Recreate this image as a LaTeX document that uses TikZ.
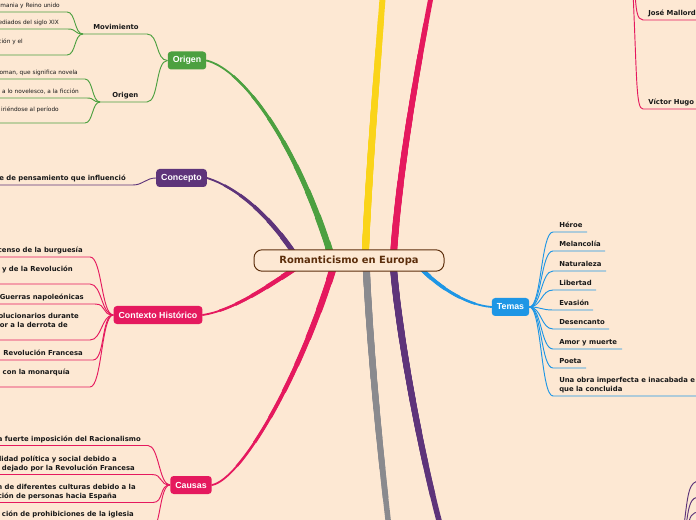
\documentclass[tikz,border=0pt]{standalone}
\usepackage{fontspec}
\setmainfont{DejaVu Sans}
\newfontfamily\libsans{Liberation Sans}
\usetikzlibrary{calc}
\definecolor{bgc}{RGB}{253,232,211}
\definecolor{grn}{RGB}{76,160,64}
\definecolor{prp}{RGB}{94,52,122}
\definecolor{pnk}{RGB}{229,25,94}
\definecolor{blu}{RGB}{30,150,229}
\definecolor{ylw}{RGB}{250,212,25}
\definecolor{gry}{RGB}{138,138,142}
\definecolor{brn}{RGB}{92,46,12}
\definecolor{txt}{RGB}{25,25,25}
\pgfdeclarelayer{back}
\pgfdeclarelayer{edges}
\pgfsetlayers{back,edges,main}
\newcommand\mbranch[5]{%
  \draw[#1,line width=#3*0.75pt,line cap=round] #5;
  \foreach \k in {1,...,8}{%
    \begin{scope}
      \clip (ctr) circle[radius={#2*(1-\k/9)}];
      \draw[#1,line width={(#3+(#4-#3)*\k/8)*0.75pt}] #5;
    \end{scope}
  }%
}
\begin{document}
\begin{tikzpicture}[x=0.75pt,y=-0.75pt,
  mainnode/.style={fill=#1,text=white,rounded corners=2.5pt,inner xsep=3.8pt,inner ysep=0pt,minimum height=13.5pt,font=\libsans\bfseries\fontsize{6.6}{8}\selectfont},
  leafb/.style={inner sep=0pt,text=txt,font=\bfseries\fontsize{5.15}{6.5}\selectfont},
  leafr/.style={inner sep=0pt,text=txt,font=\fontsize{4.35}{5.5}\selectfont},
  lw/.style={anchor=base west},
  le/.style={anchor=base east},
  sub/.style={draw=#1,line width=0.7pt},
]
\useasboundingbox (0,0) rectangle (696,520);
\begin{pgfonlayer}{back}
\fill[bgc] (0,0) rectangle (696,520);
\end{pgfonlayer}

% ---------- main nodes ----------
\node[draw=brn,line width=0.75pt,fill=bgc,rounded corners=6pt,minimum width=142.5pt,minimum height=16pt,inner sep=0pt,text=brn,font=\bfseries\fontsize{7.45}{9}\selectfont] (root) at (349,260.5) {Romanticismo en Europa};
\coordinate (ctr) at (349,261);
\node[mainnode=grn] (orig) at (187,60.5) {Origen};
\node[mainnode=prp] (conc) at (181.5,178) {Concepto};
\node[mainnode=pnk] (ctx) at (158,315) {Contexto Histórico};
\node[mainnode=pnk] (caus) at (191,485) {Causas};
\node[mainnode=blu] (temas) at (510.5,307) {Temas};

% ---------- branch end coordinates ----------
\coordinate (gEnd) at (333,262);
\coordinate (cEnd) at (300,262);
\coordinate (xEnd) at (305,262);
\coordinate (sEnd) at (335,262);
\coordinate (tEnd) at (415,262);
\coordinate (yEnd) at (365,262);
\coordinate (yTop) at (383,-8);
\coordinate (pEnd) at (393,262);
\coordinate (pTop) at (432,-8);
\coordinate (grEnd) at (366,262);
\coordinate (grBot) at (389,528);
\coordinate (puEnd) at (393,262);
\coordinate (puBot) at (441,528);

% ---------- Origen subtree ----------
\coordinate (movR) at (147,34); \coordinate (movL) at (83,34);
\coordinate (o1R) at (67,12);  \coordinate (o1L) at (-5,12);
\coordinate (o2R) at (68,29);  \coordinate (o2L) at (-5,29);
\coordinate (o3R) at (67,55);  \coordinate (o3L) at (-5,55);
\coordinate (osR) at (147,102); \coordinate (osL) at (100,102);
\coordinate (o4R) at (85,79);  \coordinate (o4L) at (-5,79);
\coordinate (o5R) at (87,98);  \coordinate (o5L) at (-5,98);
\coordinate (o6R) at (85,123); \coordinate (o6L) at (-5,123);
\node[leafb,lw] (mov) at (93,29.5) {Movimiento};
\node[leafb,lw] (osub) at (112,98) {Origen};
\node[leafr,le] (o1) at (60,7.5) {mania y Reino unido};
\node[leafr,le] (o2) at (59,24.5) {ediados del siglo XIX};
\node[leafr,le] (o3) at (23,44) {ción y el};
\node[leafr,le] (o4) at (78,75) {oman, que significa novela};
\node[leafr,le] (o5) at (79,93.5) {a lo novelesco, a la ficción};
\node[leafr,le] (o6) at (59,112) {iriéndose al período};

% ---------- Concepto ----------
\coordinate (cR) at (133,185); \coordinate (cL) at (-5,185);
\node[leafb,le] (c1) at (126,180.5) {e de pensamiento que influenció};

% ---------- Contexto ----------
\coordinate (xaR) at (90,257);  \coordinate (xaL) at (-5,257);
\coordinate (xbR) at (90,284);  \coordinate (xbL) at (-5,284);
\coordinate (xcR) at (95,304);  \coordinate (xcL) at (-5,304);
\coordinate (xdR) at (90,340);  \coordinate (xdL) at (-5,340);
\coordinate (xeR) at (93,360);  \coordinate (xeL) at (-5,360);
\coordinate (xfR) at (90,387);  \coordinate (xfL) at (-5,387);
\node[leafb,le] (xa) at (83,252.5) {censo de la burguesía};
\node[leafb,le] (xb) at (73,271.5) {y de la Revolución};
\node[leafb,le] (xc) at (84,299.5) {Guerras napoleónicas};
\node[leafb,le] (xd1) at (79,319) {olucionarios durante};
\node[leafb,le] (xd2) at (68,328) {or a la derrota de};
\node[leafb,le] (xe) at (83,355.5) {Revolución Francesa};
\node[leafb,le] (xf) at (70,374.5) {con la monarquía};

% ---------- Causas ----------
\coordinate (saR) at (148,445.5); \coordinate (saL) at (-5,445.5);
\coordinate (sbR) at (152,474.5); \coordinate (sbL) at (-5,474.5);
\coordinate (scR) at (153,502.5); \coordinate (scL) at (-5,502.5);
\coordinate (sdR) at (150,532);   \coordinate (sdL) at (-5,532);
\node[leafb,le] (sa) at (141,441) {a fuerte imposición del Racionalismo};
\node[leafb,le] (sb1) at (117,461) {lidad política y social debido a};
\node[leafb,le] (sb2) at (135,470) {dejado por la Revolución Francesa};
\node[leafb,le] (sc1) at (136,489) {n de diferentes culturas debido a la};
\node[leafb,le] (sc2) at (117,498) {ción de personas hacia España};
\node[leafb,le] (sd) at (134,516.5) {ción de prohibiciones de la iglesia};

% ---------- Temas ----------
\foreach \n/\u/\e in {1/232/587,2/251/605,3/271/606,4/290/596,5/310/593,6/329/609,7/349/622,8/368/586,9/396/700}{
  \coordinate (tL\n) at (553,\u);
  \coordinate (tR\n) at (\e,\u);
}
\node[leafb,lw] (t1) at (559,227.5) {Héroe};
\node[leafb,lw] (t2) at (559,246.5) {Melancolía};
\node[leafb,lw] (t3) at (559,266.5) {Naturaleza};
\node[leafb,lw] (t4) at (559,285.5) {Libertad};
\node[leafb,lw] (t5) at (559,305.5) {Evasión};
\node[leafb,lw] (t6) at (559,324.5) {Desencanto};
\node[leafb,lw] (t7) at (559,344.5) {Amor y muerte};
\node[leafb,lw] (t8) at (559,363.5) {Poeta};
\node[leafb,lw] (t9a) at (559,382.5) {Una obra imperfecta e inacabada e};
\node[leafb,lw] (t9b) at (559,391.5) {que la concluida};

% ---------- top right ----------
\coordinate (jmTop) at (635,-8); \coordinate (jmL) at (643,20); \coordinate (jmR) at (700,20);
\coordinate (vhTop) at (633,-8); \coordinate (vhL) at (643,109); \coordinate (vhR) at (700,109);
\node[leafb,lw] (jm) at (648,15.5) {José Mallord};
\node[leafb,lw] (vh) at (648,104.5) {Víctor Hugo};

% ---------- bottom right ----------
\coordinate (b1s) at (684,526); \coordinate (b1e) at (700,481);
\coordinate (b2s) at (686,526); \coordinate (b2e) at (700,497);
\coordinate (b3s) at (688,526); \coordinate (b3e) at (700,512);

\begin{pgfonlayer}{edges}
\mbranch{grn}{246}{1.8}{7}{(orig.east) .. controls (245,70) and (300,150) .. (gEnd)}
\mbranch{prp}{164}{1.8}{7}{(conc.east) .. controls (235,187) and (268,212) .. (cEnd)}
\mbranch{pnk}{156}{1.8}{7}{(ctx.east) .. controls (235,310) and (270,285) .. (xEnd)}
\mbranch{pnk}{263}{1.8}{7}{(caus.east) .. controls (240,480) and (300,380) .. (sEnd)}
\mbranch{blu}{150}{1.8}{6.5}{(temas.west) .. controls (465,305) and (435,285) .. (tEnd)}
\mbranch{ylw}{275}{6}{7}{(yTop) .. controls (378,60) and (368,180) .. (yEnd)}
\mbranch{pnk}{280}{5}{7}{(pTop) .. controls (415,80) and (398,180) .. (pEnd)}
\mbranch{gry}{270}{5.5}{7}{(grEnd) .. controls (370,350) and (380,450) .. (grBot)}
\mbranch{prp}{280}{5.5}{7}{(puEnd) .. controls (398,330) and (420,450) .. (puBot)}

% Origen
\draw[sub=grn] (orig.west) .. controls +(-12,0) and +(12,0) .. (movR) -- (movL);
\draw[sub=grn] (orig.west) .. controls +(-12,0) and +(12,0) .. (osR) -- (osL);
\foreach \a in {o1,o2,o3}{\draw[sub=grn] (movL) .. controls +(-9,0) and +(9,0) .. (\a R) -- (\a L);}
\foreach \a in {o4,o5,o6}{\draw[sub=grn] (osL) .. controls +(-8,0) and +(8,0) .. (\a R) -- (\a L);}
% Concepto
\draw[sub=prp] (conc.west) .. controls +(-10,0) and +(10,0) .. (cR) -- (cL);
% Contexto
\foreach \a in {xa,xb,xc,xd,xe,xf}{\draw[sub=pnk] (ctx.west) .. controls +(-12,0) and +(12,0) .. (\a R) -- (\a L);}
% Causas
\foreach \a in {sa,sb,sc,sd}{\draw[sub=pnk] (caus.west) .. controls +(-11,0) and +(11,0) .. (\a R) -- (\a L);}
% Temas
\foreach \n in {1,...,9}{\draw[sub=blu] (temas.east) .. controls +(12,0) and +(-12,0) .. (tL\n) -- (tR\n);}
% top right
\draw[sub=pnk] (jmTop) .. controls (636,10) and (637,20) .. (jmL) -- (jmR);
\draw[sub=pnk] (vhTop) .. controls (637,80) and (636,109) .. (vhL) -- (vhR);
% bottom right
\draw[sub=prp] (b1s) .. controls (688,492) and (689,481) .. (b1e);
\draw[sub=prp] (b2s) .. controls (689,505) and (690,497) .. (b2e);
\draw[sub=prp] (b3s) .. controls (690,517) and (691,512) .. (b3e);
\end{pgfonlayer}
\end{tikzpicture}
\end{document}
